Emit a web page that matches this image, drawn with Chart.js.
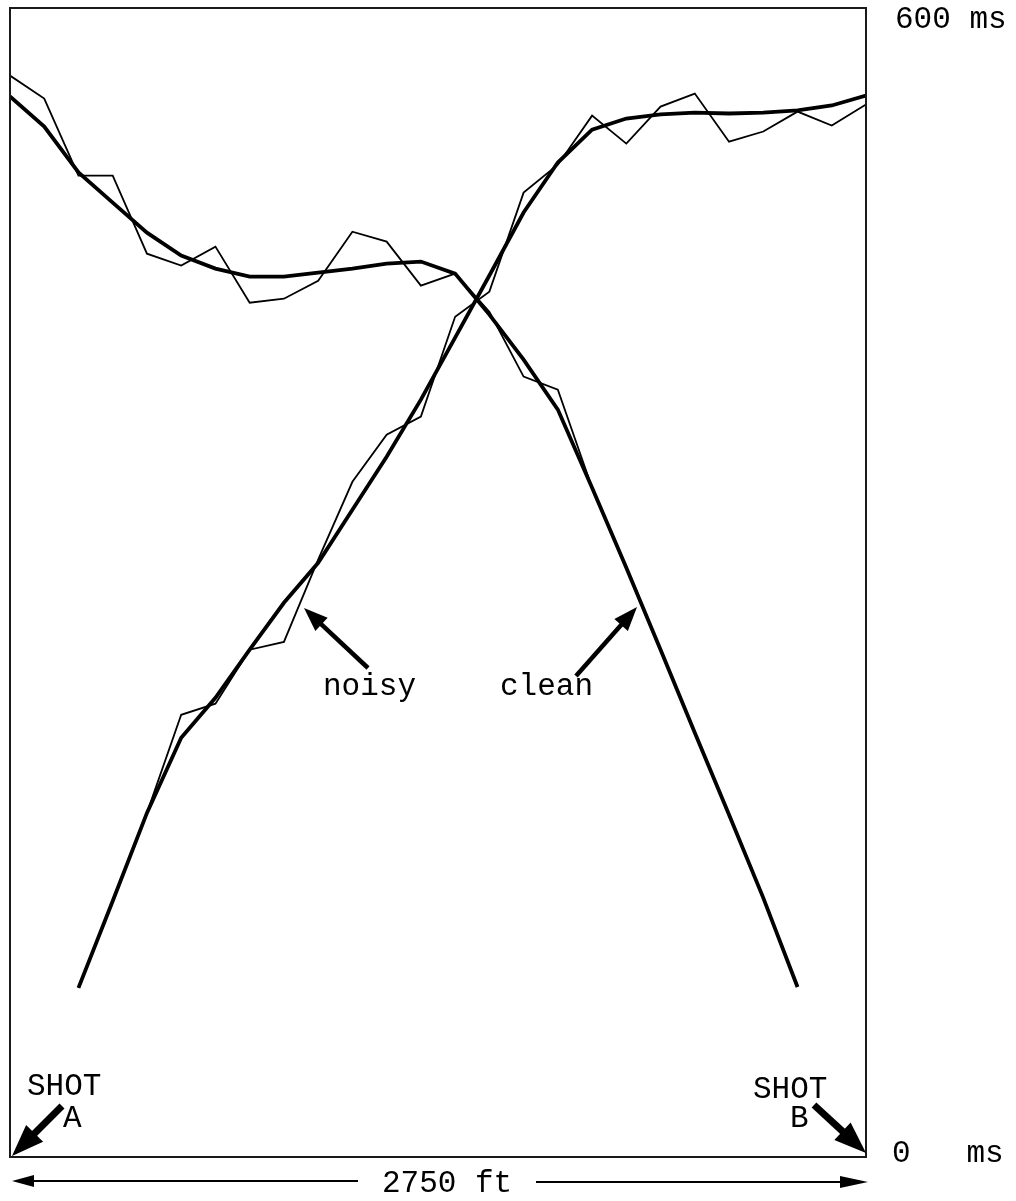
<!DOCTYPE html>
<html>
<head>
<meta charset="utf-8">
<script src="https://cdn.jsdelivr.net/npm/chart.js@4.4.1/dist/chart.umd.min.js"></script>
<style>
  html, body { margin: 0; padding: 0; background: #fff; }
  canvas { display: block; }
</style>
</head>
<body>
<canvas id="c" width="1016" height="1201"></canvas>
<script>
// ---- data (distance in ft, traveltime in ms) ----
const distanceFt = [0, 110, 220, 330, 440, 550, 660, 770, 880, 990, 1100, 1210, 1320,
                    1430, 1540, 1650, 1760, 1870, 1980, 2090, 2200, 2310, 2420, 2530, 2640, 2750];

// record of shot B (starts top-left, ends near shot B)
const shotBClean = [553.8, 538.1, 514.1, 498.4, 482.7, 470.7, 463.9, 459.7, 459.7, 461.8, 463.9, 466.5, 467.6,
                    461.3, 439.9, 416.4, 390.3, 349.5, 307.7, 264.9, 221.5, 178.7, 135.3, 88.8, null, null];
const shotBNoisy = [564.7, 552.7, 512.5, 512.5, 471.7, 465.5, 475.4, 446.1, 448.2, 457.6, 483.2, 478.0, 455.0,
                    461.3, 441.4, 407.5, 400.7, 349.5, 307.7, 264.9, 221.5, 178.7, 135.3, 88.8, null, null];

// record of shot A (starts near shot A, ends top-right)
const shotAClean = [null, null, 88.3, 133.7, 179.7, 218.9, 239.8, 264.9, 289.4, 310.3, 338.0, 365.7, 395.5,
                    427.9, 460.3, 493.2, 519.3, 536.5, 542.3, 544.4, 545.4, 544.9, 545.4, 546.5, 549.1, 554.3];
const shotANoisy = [null, null, 88.3, 133.7, 179.7, 230.9, 236.7, 264.9, 269.0, 311.9, 352.6, 377.2, 386.6,
                    438.8, 451.9, 503.6, 518.2, 543.8, 529.2, 548.5, 555.3, 530.2, 535.5, 545.9, 538.6, 549.6];

const yTickValues = [600, 0];
const yTickLabels = ["600 ms", "0   ms"];
const spanLabel = "2750 ft";
const calloutLabels = ["noisy", "clean"];
const shotLabels = [["SHOT", "A"], ["SHOT", "B"]];

const pts = arr => distanceFt.map((x, i) => ({ x: x, y: arr[i] }));

const FONT = '31px "Liberation Mono", "DejaVu Sans Mono", monospace';
const INK = '#000';

function arrow(ctx, x1, y1, x2, y2, shaft, headL, headW) {
  const a = Math.atan2(y2 - y1, x2 - x1);
  const bx = x2 - headL * Math.cos(a), by = y2 - headL * Math.sin(a);
  ctx.save();
  ctx.strokeStyle = INK; ctx.fillStyle = INK;
  ctx.lineWidth = shaft; ctx.lineCap = 'butt';
  ctx.beginPath(); ctx.moveTo(x1, y1); ctx.lineTo(bx + 2 * Math.cos(a), by + 2 * Math.sin(a)); ctx.stroke();
  ctx.beginPath();
  ctx.moveTo(x2, y2);
  ctx.lineTo(bx + headW / 2 * Math.sin(a), by - headW / 2 * Math.cos(a));
  ctx.lineTo(bx - headW / 2 * Math.sin(a), by + headW / 2 * Math.cos(a));
  ctx.closePath(); ctx.fill();
  ctx.restore();
}

const decor = {
  id: 'decor',
  afterDatasetsDraw(chart) {
    const ctx = chart.ctx, ca = chart.chartArea;
    const xs = chart.scales.x, ys = chart.scales.y;
    ctx.save();
    // frame
    ctx.strokeStyle = '#1a1a1a'; ctx.lineWidth = 2;
    ctx.strokeRect(ca.left, ca.top, ca.right - ca.left, ca.bottom - ca.top);

    ctx.fillStyle = INK; ctx.font = FONT; ctx.textBaseline = 'alphabetic'; ctx.textAlign = 'left';
    // y labels on right
    const yOff = [20, 5];
    yTickValues.forEach((v, i) => {
      ctx.fillText(yTickLabels[i], ca.right + (i === 0 ? 29 : 26), ys.getPixelForValue(v) + yOff[i]);
    });

    // span label and arrows
    const x0 = xs.getPixelForValue(0), x1 = xs.getPixelForValue(2750);
    const ly = ca.bottom + 25;
    ctx.fillText(spanLabel, 382, ly + 10);
    ctx.lineWidth = 1.8; ctx.strokeStyle = INK;
    ctx.beginPath(); ctx.moveTo(x0 + 18, ly - 1); ctx.lineTo(358, ly - 1); ctx.stroke();
    ctx.beginPath(); ctx.moveTo(536, ly); ctx.lineTo(x1 - 20, ly); ctx.stroke();
    arrow(ctx, x0 + 30, ly - 1, x0 + 2, ly - 1, 1.8, 22, 12);
    arrow(ctx, x1 - 30, ly, x1 + 2, ly, 1.8, 28, 12);

    // shot labels
    ctx.fillText(shotLabels[0][0], 27, 1095);
    ctx.fillText(shotLabels[0][1], 63, 1127);
    ctx.fillText(shotLabels[1][0], 753, 1098);
    ctx.fillText(shotLabels[1][1], 790, 1127);
    arrow(ctx, 62, 1106, x0 + 2, ca.bottom - 1, 7, 32, 24);
    arrow(ctx, 814, 1105, x1, ca.bottom - 4, 7, 32, 24);

    // callouts
    ctx.fillText(calloutLabels[0], 323, 695);
    ctx.fillText(calloutLabels[1], 500, 695);
    arrow(ctx, 368, 668, 304, 608, 4.5, 24, 18);
    arrow(ctx, 576, 676, 637, 607, 4.5, 24, 18);
    ctx.restore();
  }
};

new Chart(document.getElementById('c'), {
  type: 'line',
  data: {
    datasets: [
      { label: 'shot B clean', data: pts(shotBClean), borderColor: INK, borderWidth: 3.8, pointRadius: 0, tension: 0, fill: false },
      { label: 'shot B noisy', data: pts(shotBNoisy), borderColor: INK, borderWidth: 1.8, pointRadius: 0, tension: 0, fill: false },
      { label: 'shot A clean', data: pts(shotAClean), borderColor: INK, borderWidth: 3.8, pointRadius: 0, tension: 0, fill: false },
      { label: 'shot A noisy', data: pts(shotANoisy), borderColor: INK, borderWidth: 1.8, pointRadius: 0, tension: 0, fill: false }
    ]
  },
  options: {
    responsive: false,
    animation: false,
    devicePixelRatio: 1,
    layout: { padding: { left: 10, top: 8, right: 150, bottom: 44 } },
    plugins: { legend: { display: false }, tooltip: { enabled: false } },
    scales: {
      x: { type: 'linear', min: 0, max: 2750, display: false },
      y: { type: 'linear', min: 0, max: 600, display: false }
    }
  },
  plugins: [decor]
});
</script>
</body>
</html>
